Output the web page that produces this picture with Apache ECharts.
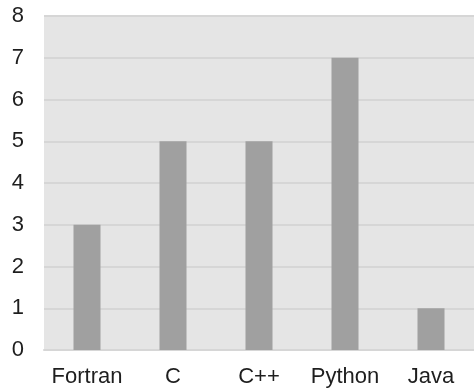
<!DOCTYPE html>
<html><head><meta charset="utf-8">
<script src="https://cdn.jsdelivr.net/npm/echarts@6/dist/echarts.min.js"></script>
<style>html,body{margin:0;padding:0;background:#fff}#c{width:474px;height:391px}</style>
</head><body><div id="c"></div>
<script>
const categories = ['Fortran', 'C', 'C++', 'Python', 'Java'];
const values = [3, 5, 5, 7, 1];
const chart = echarts.init(document.getElementById('c'), null, {renderer: 'canvas'});
chart.setOption({
  animation: false,
  grid: {left: 44, right: -4, top: 16, bottom: 41, show: true, backgroundColor: '#e5e5e5', borderWidth: 0},
  xAxis: {
    type: 'category', data: categories,
    axisLine: {show: true, lineStyle: {color: '#d6d6d6', width: 2}},
    axisTick: {show: false},
    axisLabel: {interval: 0, color: '#1e1e1e', fontSize: 22, fontFamily: 'Liberation Sans, Arial, sans-serif', margin: 16}
  },
  yAxis: {
    type: 'value', min: 0, max: 8, interval: 1,
    axisLine: {show: false}, axisTick: {show: false},
    splitLine: {lineStyle: {color: '#d6d6d6', width: 2}},
    axisLabel: {color: '#1e1e1e', fontSize: 22, fontFamily: 'Liberation Sans, Arial, sans-serif', margin: 20}
  },
  series: [{type: 'bar', data: values, barWidth: 27, itemStyle: {color: '#a0a0a0'}}]
});
</script></body></html>
